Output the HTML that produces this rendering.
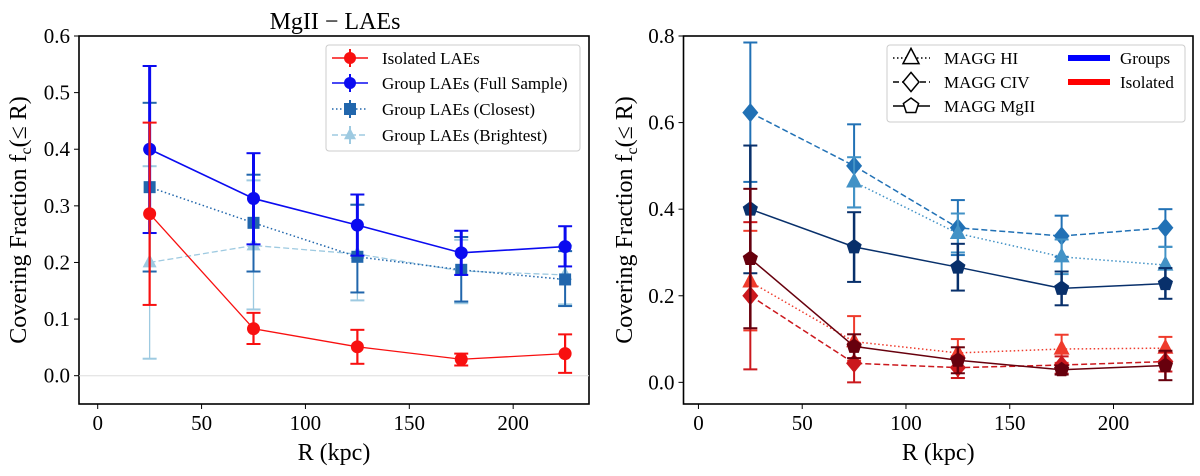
<!DOCTYPE html>
<html><head><meta charset="utf-8"><style>
body{margin:0;background:#fff;}
svg{display:block;font-family:"Liberation Serif",serif;}
</style></head><body>
<svg id="fig" width="1200" height="476" viewBox="0 0 1200 476"></svg>
<script>
const xs=[25,75,125,175,225];
const xTicks=[0,50,100,150,200];
const leftYTicks=[0.0,0.1,0.2,0.3,0.4,0.5,0.6];
const rightYTicks=[0.0,0.2,0.4,0.6,0.8];
// Left panel
const isoVal=[0.286,0.083,0.051,0.029,0.039];
const isoLo=[0.125,0.056,0.021,0.018,0.005];
const isoHi=[0.447,0.111,0.081,0.039,0.073];
const fullVal=[0.400,0.313,0.266,0.217,0.228];
const fullLo=[0.252,0.232,0.212,0.178,0.193];
const fullHi=[0.547,0.393,0.320,0.256,0.264];
const closeVal=[0.333,0.270,0.210,0.187,0.170];
const closeLo=[0.184,0.184,0.147,0.131,0.123];
const closeHi=[0.482,0.355,0.302,0.245,0.220];
const brightVal=[0.200,0.230,0.215,0.185,0.178];
const brightLo=[0.030,0.117,0.133,0.128,0.126];
const brightHi=[0.370,0.345,0.302,0.240,0.230];
// Right panel
const gCivVal=[0.623,0.500,0.357,0.338,0.357];
const gCivLo=[0.463,0.404,0.294,0.290,0.313];
const gCivHi=[0.785,0.596,0.421,0.385,0.400];
const gHiX=[75,125,175,225];
const gHiVal=[0.463,0.344,0.290,0.271];
const gHiLo=[0.404,0.300,0.250,0.230];
const gHiHi=[0.520,0.390,0.330,0.313];
const gMgVal=[0.400,0.313,0.266,0.217,0.228];
const gMgLo=[0.252,0.232,0.212,0.178,0.193];
const gMgHi=[0.547,0.393,0.320,0.256,0.264];
const iHiVal=[0.232,0.094,0.068,0.077,0.079];
const iHiLo=[0.120,0.050,0.035,0.045,0.050];
const iHiHi=[0.350,0.153,0.100,0.110,0.105];
const iCivVal=[0.200,0.044,0.034,0.040,0.048];
const iCivLo=[0.030,0.000,0.010,0.020,0.025];
const iCivHi=[0.370,0.090,0.060,0.060,0.070];
const iMgVal=[0.286,0.083,0.051,0.029,0.039];
const iMgLo=[0.125,0.056,0.021,0.018,0.005];
const iMgHi=[0.447,0.111,0.081,0.039,0.073];

const NS="http://www.w3.org/2000/svg";
const svg=document.getElementById('fig');
function mk(tag,attrs,parent){const e=document.createElementNS(NS,tag);for(const k in attrs)e.setAttribute(k,attrs[k]);(parent||svg).appendChild(e);return e;}

function panel(P){
  const g=mk('g',{});
  
  
  P.sx=v=>P.x0+(v-P.xmin)/(P.xmax-P.xmin)*(P.x1-P.x0);
  P.sy=v=>P.y1-(v-P.ymin)/(P.ymax-P.ymin)*(P.y1-P.y0);
  P.g=g;
  return P;
}
function axes(P,yTicks,dec){
  const g=P.g;
  xTicks.forEach(t=>{const x=P.sx(t);
    const l=mk('line',{x1:x,x2:x,y1:P.y1,y2:P.y1+5,stroke:'#000','stroke-width':1},g);
    
    const tx=mk('text',{x:x,y:P.y1+26,'font-size':21,'text-anchor':'middle'},g);tx.textContent=t;
    });
  yTicks.forEach(t=>{const y=P.sy(t);
    const l=mk('line',{x1:P.x0-5,x2:P.x0,y1:y,y2:y,stroke:'#000','stroke-width':1},g);
    
    const tx=mk('text',{x:P.x0-9,y:y+7,'font-size':21,'text-anchor':'end'},g);tx.textContent=t.toFixed(1);
    });
  const xl=mk('text',{x:(P.x0+P.x1)/2,y:460,'font-size':24,'text-anchor':'middle'},g);xl.textContent='R (kpc)';
  
  const yl=mk('text',{x:0,y:0,'font-size':24,'text-anchor':'middle',transform:`translate(${P.ylx},${(P.y0+P.y1)/2}) rotate(-90)`},g);
  yl.innerHTML='Covering Fraction f<tspan font-size="16" dy="5">c</tspan><tspan dy="-5">(≤ R)</tspan>';
  
}
function frame(P){
  const r=mk('rect',{x:P.x0,y:P.y0,width:P.x1-P.x0,height:P.y1-P.y0,fill:'none',stroke:'#000','stroke-width':1.6},P.g);
  
}
function marker(g,type,x,y,s,color){
  let e;
  if(type==='o')e=mk('circle',{cx:x,cy:y,r:s,fill:color},g);
  else if(type==='s')e=mk('rect',{x:x-s,y:y-s,width:2*s,height:2*s,fill:color},g);
  else if(type==='^')e=mk('polygon',{points:`${x},${y-s*1.2} ${x-s},${y+s*0.7} ${x+s},${y+s*0.7}`,fill:color},g);
  else if(type==='D')e=mk('polygon',{points:`${x},${y-s*1.2} ${x+s},${y} ${x},${y+s*1.2} ${x-s},${y}`,fill:color},g);
  else if(type==='p'){let pts=[];for(let i=0;i<5;i++){const a=-Math.PI/2+i*2*Math.PI/5;pts.push((x+s*Math.cos(a))+','+(y+s*Math.sin(a)));}e=mk('polygon',{points:pts.join(' '),fill:color},g);}
  return e;
}
function series(P,name,X,V,L,H,color,dash,mtype,ms,lw,ew){
  const g=mk('g',{},P.g);
  
  X.forEach((x,i)=>{const px=P.sx(x);
    const e=mk('line',{x1:px,x2:px,y1:P.sy(L[i]),y2:P.sy(H[i]),stroke:color,'stroke-width':ew},g);
    
    [L[i],H[i]].forEach(v=>{const c=mk('line',{x1:px-7,x2:px+7,y1:P.sy(v),y2:P.sy(v),stroke:color,'stroke-width':2},g);
      });});
  const pts=X.map((x,i)=>P.sx(x)+','+P.sy(V[i])).join(' ');
  const pl=mk('polyline',{points:pts,fill:'none',stroke:color,'stroke-width':lw,'stroke-dasharray':dash},g);
  
  X.forEach((x,i)=>{const m=marker(g,mtype,P.sx(x),P.sy(V[i]),ms,color);
    });
}

// LEFT
const A=panel({name:'left-panel',x0:79,x1:589,y0:36,y1:404,xmin:-9,xmax:236.5,ymin:-0.05,ymax:0.6,ylx:26});
frame(A);
const zl=mk('line',{x1:A.x0,x2:A.x1,y1:A.sy(0),y2:A.sy(0),stroke:'#ddd','stroke-width':1},A.g);

axes(A,leftYTicks);
series(A,'series-brightest',xs,brightVal,brightLo,brightHi,'#9ecae1','6,3','^',7,1.3,1.3);
series(A,'series-closest',xs,closeVal,closeLo,closeHi,'#2166ac','1.5,2.5','s',6,1.5,2);
series(A,'series-full',xs,fullVal,fullLo,fullHi,'#0b0bf0','',  'o',6.5,1.6,3);
series(A,'series-isolated',xs,isoVal,isoLo,isoHi,'#f81010','','o',6.5,1.3,2.2);
const t1=mk('text',{x:335,y:29,'font-size':24,'text-anchor':'middle'},A.g);t1.textContent='MgII − LAEs';


// RIGHT
const B=panel({name:'right-panel',x0:683.5,x1:1193,y0:36,y1:404,xmin:-7.2,xmax:238.3,ymin:-0.05,ymax:0.8,ylx:632});
frame(B);axes(B,rightYTicks);
series(B,'series-groups-civ',xs,gCivVal,gCivLo,gCivHi,'#2171b5','6,3','D',8,1.5,2);
series(B,'series-groups-hi',gHiX,gHiVal,gHiLo,gHiHi,'#4292c6','1.5,2.5','^',8,1.5,2);
series(B,'series-groups-mgii',xs,gMgVal,gMgLo,gMgHi,'#08306b','','p',8,1.5,2.5);
series(B,'series-isolated-hi',xs,iHiVal,iHiLo,iHiHi,'#ef3b2c','1.5,2.5','^',8,1.5,2);
series(B,'series-isolated-civ',xs,iCivVal,iCivLo,iCivHi,'#cb181d','6,3','D',8,1.5,2);
series(B,'series-isolated-mgii',xs,iMgVal,iMgLo,iMgHi,'#67000d','','p',8,1.5,2.5);

// Left legend
const LG=mk('g',{});
mk('rect',{x:326,y:45,width:254,height:106,rx:3,fill:'#fff','fill-opacity':0.85,stroke:'#ccc'},LG);
[['Isolated LAEs','#f81010','','o',58],['Group LAEs (Full Sample)','#0b0bf0','','o',83],['Group LAEs (Closest)','#2166ac','1.5,2.5','s',109],['Group LAEs (Brightest)','#9ecae1','6,3','^',135]].forEach(d=>{
  const e=mk('g',{},LG);
  mk('line',{x1:332,x2:368,y1:d[4],y2:d[4],stroke:d[1],'stroke-width':1.5,'stroke-dasharray':d[2]},e);
  mk('line',{x1:350,x2:350,y1:d[4]-9,y2:d[4]+9,stroke:d[1],'stroke-width':2},e);
  marker(e,d[3],350,d[4],6,d[1]);
  const t=mk('text',{x:382,y:d[4]+6,'font-size':17},e);t.textContent=d[0];});
// Right legend
const RG=mk('g',{});
mk('rect',{x:887,y:45,width:298,height:77,rx:3,fill:'#fff','fill-opacity':0.85,stroke:'#ccc'},RG);
[['MAGG HI','1.5,2.5','^',58],['MAGG CIV','6,3','D',82],['MAGG MgII','','p',106]].forEach(d=>{
  const e=mk('g',{},RG);
  mk('line',{x1:893,x2:930,y1:d[3],y2:d[3],stroke:'#000','stroke-width':1.5,'stroke-dasharray':d[1]},e);
  const m=marker(e,d[2],911,d[3],8,'#fff');m.setAttribute('stroke','#000');m.setAttribute('stroke-width','1.5');
  const t=mk('text',{x:944,y:d[3]+6,'font-size':17},e);t.textContent=d[0];});
[['Groups','#0000ff',58],['Isolated','#ff0000',82]].forEach(d=>{
  const e=mk('g',{},RG);
  mk('rect',{x:1068,y:d[2]-3,width:42,height:6,fill:d[1]},e);
  const t=mk('text',{x:1120,y:d[2]+6,'font-size':17},e);t.textContent=d[0];});
</script>
</body></html>
